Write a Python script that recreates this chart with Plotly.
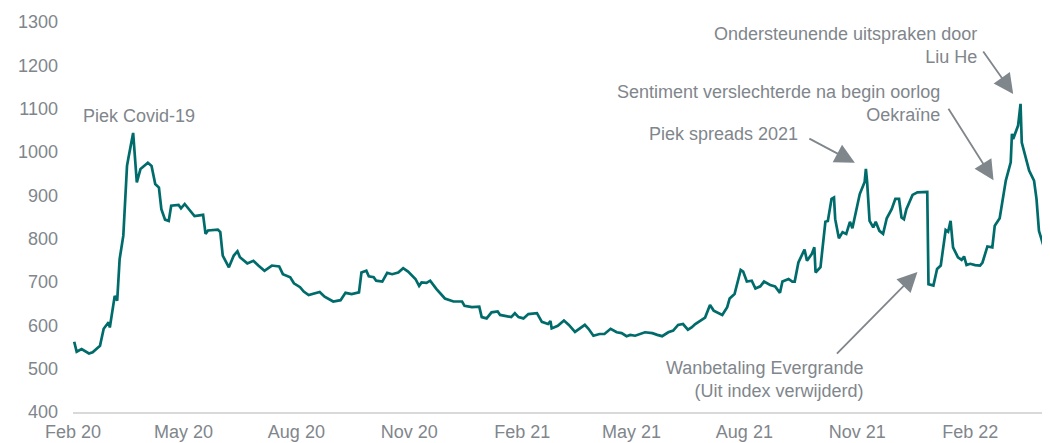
import plotly.graph_objects as go

# spread (bp) readings, Feb 2020 - Apr 2022
dates = [
    "2020-02-02", "2020-02-04", "2020-02-08", "2020-02-14", "2020-02-17", "2020-02-23", "2020-02-26",
    "2020-03-01", "2020-03-02", "2020-03-03", "2020-03-06", "2020-03-08", "2020-03-10", "2020-03-13",
    "2020-03-16", "2020-03-17", "2020-03-21", "2020-03-24", "2020-03-27", "2020-04-02", "2020-04-05",
    "2020-04-08", "2020-04-11", "2020-04-13", "2020-04-16", "2020-04-19", "2020-04-21", "2020-04-27",
    "2020-04-29", "2020-05-02", "2020-05-05", "2020-05-08", "2020-05-10", "2020-05-17", "2020-05-19",
    "2020-05-21", "2020-05-29", "2020-05-31", "2020-06-02", "2020-06-07", "2020-06-11", "2020-06-14",
    "2020-06-16", "2020-06-22", "2020-06-27", "2020-07-01", "2020-07-06", "2020-07-12", "2020-07-18",
    "2020-07-21", "2020-07-27", "2020-07-30", "2020-08-04", "2020-08-07", "2020-08-11", "2020-08-20",
    "2020-08-24", "2020-08-31", "2020-09-06", "2020-09-10", "2020-09-15", "2020-09-21", "2020-09-23",
    "2020-09-27", "2020-09-29", "2020-10-03", "2020-10-05", "2020-10-10", "2020-10-14", "2020-10-18",
    "2020-10-23", "2020-10-27", "2020-10-31", "2020-11-06", "2020-11-09", "2020-11-11", "2020-11-15",
    "2020-11-18", "2020-11-23", "2020-11-30", "2020-12-07", "2020-12-14", "2020-12-16", "2020-12-22",
    "2020-12-28", "2020-12-30", "2021-01-03", "2021-01-07", "2021-01-12", "2021-01-14", "2021-01-21",
    "2021-01-23", "2021-01-26", "2021-01-29", "2021-02-02", "2021-02-06", "2021-02-13", "2021-02-17",
    "2021-02-22", "2021-02-24", "2021-02-25", "2021-03-02", "2021-03-07", "2021-03-11", "2021-03-16",
    "2021-03-24", "2021-03-27", "2021-03-31", "2021-04-05", "2021-04-09", "2021-04-14", "2021-04-19",
    "2021-04-23", "2021-04-27", "2021-04-30", "2021-05-04", "2021-05-12", "2021-05-18", "2021-05-22",
    "2021-05-26", "2021-05-31", "2021-06-04", "2021-06-08", "2021-06-12", "2021-06-16", "2021-06-19",
    "2021-06-22", "2021-06-30", "2021-07-04", "2021-07-07", "2021-07-14", "2021-07-18", "2021-07-20",
    "2021-07-24", "2021-07-29", "2021-07-31", "2021-08-03", "2021-08-07", "2021-08-10", "2021-08-14",
    "2021-08-17", "2021-08-22", "2021-08-26", "2021-08-30", "2021-09-01", "2021-09-06", "2021-09-09",
    "2021-09-11", "2021-09-14", "2021-09-19", "2021-09-21", "2021-09-25", "2021-09-27", "2021-09-28",
    "2021-10-02", "2021-10-06", "2021-10-08", "2021-10-11", "2021-10-13", "2021-10-14", "2021-10-17",
    "2021-10-20", "2021-10-23", "2021-10-26", "2021-10-28", "2021-10-31", "2021-11-03", "2021-11-07",
    "2021-11-08", "2021-11-09", "2021-11-11", "2021-11-14", "2021-11-16", "2021-11-19", "2021-11-22",
    "2021-11-25", "2021-11-29", "2021-12-02", "2021-12-05", "2021-12-07", "2021-12-09", "2021-12-11",
    "2021-12-16", "2021-12-20", "2021-12-28", "2021-12-29", "2022-01-02", "2022-01-05", "2022-01-08",
    "2022-01-12", "2022-01-14", "2022-01-16", "2022-01-18", "2022-01-22", "2022-01-25", "2022-01-27",
    "2022-01-29", "2022-02-01", "2022-02-05", "2022-02-09", "2022-02-11", "2022-02-15", "2022-02-19",
    "2022-02-21", "2022-02-25", "2022-03-02", "2022-03-06", "2022-03-07", "2022-03-08", "2022-03-12",
    "2022-03-14", "2022-03-15", "2022-03-18", "2022-03-21", "2022-03-25", "2022-03-27", "2022-03-29",
    "2022-04-01", "2022-04-04", "2022-04-06", "2022-04-07",
]
spread = [
    562, 539, 545, 535, 538, 553, 592,
    607, 595, 611, 668, 657, 753, 807,
    968, 984, 1044, 930, 961, 975, 968,
    926, 918, 868, 844, 841, 876, 878,
    870, 880, 870, 861, 852, 855, 811,
    819, 821, 815, 761, 734, 761, 771,
    757, 743, 749, 738, 726, 738, 736,
    718, 711, 697, 688, 678, 670, 677,
    666, 655, 658, 675, 672, 676, 722,
    726, 713, 711, 703, 701, 721, 718,
    722, 732, 724, 707, 691, 699, 698,
    703, 684, 662, 655, 655, 645, 642,
    643, 619, 616, 630, 632, 624, 620,
    619, 628, 619, 616, 626, 628, 608,
    603, 610, 593, 599, 611, 601, 585,
    601, 592, 576, 580, 580, 592, 584,
    582, 575, 578, 576, 584, 582, 578,
    575, 584, 588, 601, 603, 590, 595,
    603, 618, 647, 634, 624, 642, 662,
    672, 728, 724, 701, 703, 685, 690,
    701, 693, 690, 675, 701, 707, 701,
    701, 745, 775, 749, 765, 780, 722,
    734, 839, 841, 892, 895, 845, 801,
    815, 811, 839, 824, 861, 903, 931,
    961, 931, 841, 826, 839, 818, 811,
    847, 868, 892, 892, 849, 845, 868,
    901, 907, 908, 695, 692, 730, 738,
    820, 816, 841, 780, 757, 751, 759,
    739, 742, 739, 738, 745, 782, 780,
    830, 847, 934, 976, 1042, 1030, 1061,
    1111, 1022, 991, 957, 934, 892, 818,
    792, 762, 784, 790,
]

tick_dates = ["2020-02-01", "2020-05-01", "2020-08-01", "2020-11-01", "2021-02-01",
              "2021-05-01", "2021-08-01", "2021-11-01", "2022-02-01"]
tick_labels = ["Feb 20", "May 20", "Aug 20", "Nov 20", "Feb 21",
               "May 21", "Aug 21", "Nov 21", "Feb 22"]

TEAL = "#006b6b"
GREY = "#7f868c"
FONT = "Liberation Sans, Arial, sans-serif"

fig = go.Figure()
fig.add_trace(go.Scatter(x=dates, y=spread, mode="lines",
                         line=dict(color=TEAL, width=2.7), showlegend=False))

# text labels
notes = [
    ("2020-03-26", 1083, "Piek Covid-19", "center"),
    ("2021-09-15", 1042, "Piek spreads 2021", "right"),
    ("2022-01-09", 1111, "Sentiment verslechterde na begin oorlog<br>Oekraïne", "right"),
    ("2022-02-08", 1246, "Ondersteunende uitspraken door<br>Liu He", "right"),
    ("2021-11-07", 475, "Wanbetaling Evergrande<br>(Uit index verwijderd)", "right"),
]
for x, y, txt, anc in notes:
    fig.add_annotation(x=x, y=y, text=txt, showarrow=False, xanchor=anc, yanchor="middle",
                       align=anc, font=dict(family=FONT, size=18, color=GREY))

# arrows: tip in data coords, tail offset in pixels
arrows = [
    ("2021-10-30", 975, -47, -25),
    ("2022-02-20", 935, -46, -73),
    ("2022-03-08", 1134, -31, -44),
    ("2021-12-20", 723, -82, 83),
]
for x, y, ax, ay in arrows:
    fig.add_annotation(x=x, y=y, ax=ax, ay=ay, text="", showarrow=True,
                       arrowhead=2, arrowsize=2.2, arrowwidth=1.8, arrowcolor=GREY)

# page body has an 8px margin, so the figure is 8px smaller than the window
fig.update_layout(
    width=1042, height=435,
    margin=dict(l=65, r=0, t=14, b=31),
    paper_bgcolor="white", plot_bgcolor="white",
    font=dict(family=FONT, size=18, color=GREY),
    xaxis=dict(type="date", range=["2020-02-01", "2022-04-07"],
               tickvals=tick_dates, ticktext=tick_labels,
               showgrid=False, zeroline=False,
               showline=True, linecolor="#d9d9d9", linewidth=1.5,
               ticks="", ticklabelstandoff=3),
    yaxis=dict(range=[400, 1300], dtick=100, tick0=400,
               showgrid=False, zeroline=False, showline=False,
               ticks="", ticklabelstandoff=14),
)

fig.write_html("out.html")
